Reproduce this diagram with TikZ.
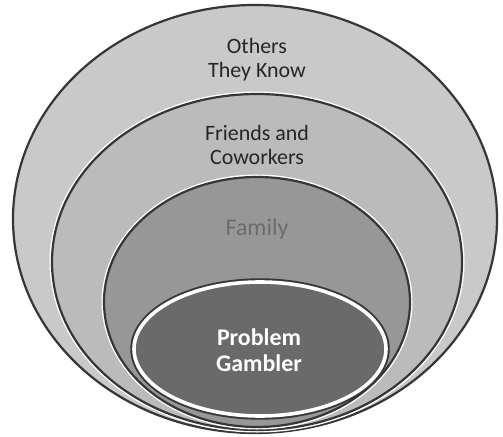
\documentclass[tikz,border=0pt]{standalone}
\usepackage{fontspec}
\setmainfont{Carlito}
\definecolor{othersfill}{HTML}{C9C9C9}
\definecolor{friendsfill}{HTML}{BBBBBB}
\definecolor{familyfill}{HTML}{979797}
\definecolor{gamblerfill}{HTML}{6A6A6A}
\definecolor{ringline}{HTML}{363636}
\definecolor{familytext}{HTML}{6C6C6C}
\tikzset{
ring/.style={draw=ringline, line width=2.2bp, preaction={draw=white, line width=5bp}},
innerring/.style={draw=white, line width=3.6bp, preaction={draw=ringline, line width=7.4bp}},
label/.style={align=center, font=\fontsize{22}{24}\selectfont, text=black!85}
}
\begin{document}
\begin{tikzpicture}[x=1bp,y=-1bp]
\useasboundingbox[fill=white] (0,0) rectangle (503,437);

\draw[ring, fill=othersfill] (255,219) ellipse [x radius=242bp, y radius=214bp];
\draw[ring, fill=friendsfill] (257,262) ellipse [x radius=205bp, y radius=168bp];
\draw[ring, fill=familyfill] (257,302) ellipse [x radius=153bp, y radius=125bp];
\draw[innerring, fill=gamblerfill] (260,349) ellipse [x radius=126bp, y radius=67bp];

\node[label] (others) at (257,60) {Others\\They Know};
\node[label] (friends) at (257,145) {Friends and\\Coworkers};
\node[label, text=familytext, font=\fontsize{24}{26}\selectfont] (family) at (257,229) {Family};
\node[label, text=white, font=\fontsize{24}{26}\selectfont\bfseries] (gambler) at (259,350) {Problem\\Gambler};

\end{tikzpicture}
\end{document}
